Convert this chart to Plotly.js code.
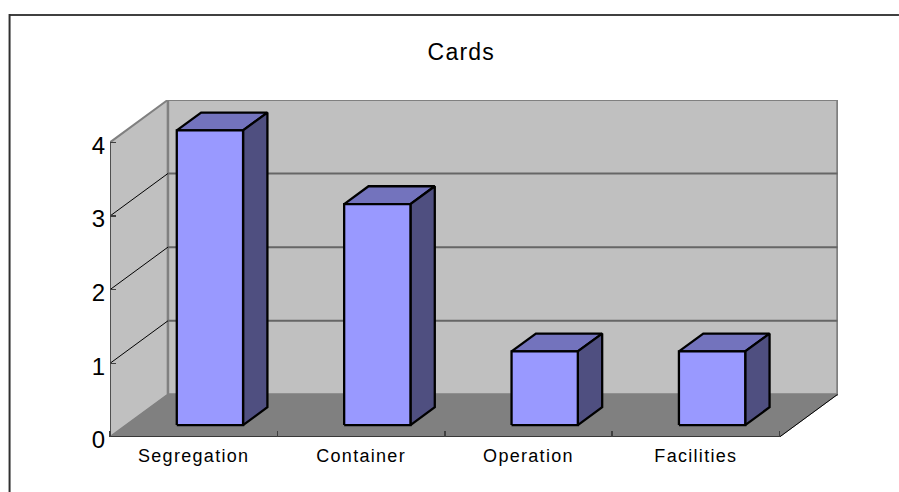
<!DOCTYPE html>
<html>
<head>
<meta charset="utf-8">
<script src="https://cdn.plot.ly/plotly-3.0.1.min.js"></script>
<style>
html,body{margin:0;padding:0;background:#fff;overflow:hidden}
#chart{width:899px;height:492px}
.xtick text{letter-spacing:1.3px}
.gtitle{letter-spacing:1.2px}
</style>
</head>
<body>
<div id="chart"></div>
<script>
const categories = ["Segregation", "Container", "Operation", "Facilities"];
const cardCounts = [4, 3, 1, 1];
const yTickValues = [0, 1, 2, 3, 4];
const chartTitle = "Cards";

// Oblique projection of the 3-D box, expressed in axis units
const catPx = 167.5, unitPx = 73.6;
const depthX = 58 / catPx, depthY = 42.5 / unitPx;
const barWidth = 0.396, barDepthStart = 0.28, barDepthEnd = 0.70;
const nCat = categories.length, yMax = yTickValues[yTickValues.length - 1];
const proj = (c, v, d) => [c + d * depthX, v + d * depthY];

function poly(points, fill, lineColor, lineWidth) {
  const p = points.map(q => proj(q[0], q[1], q[2]));
  if (fill) p.push(p[0]);
  return {
    x: p.map(q => q[0]), y: p.map(q => q[1]), type: 'scatter', mode: 'lines',
    fill: fill ? 'toself' : 'none', fillcolor: fill || undefined,
    line: {color: lineColor, width: lineWidth, simplify: false},
    cliponaxis: false, hoverinfo: 'skip', showlegend: false
  };
}

const traces = [];
// left wall, back wall, floor
traces.push(poly([[0,0,0],[0,yMax,0],[0,yMax,1],[0,0,1]], '#C0C0C0', '#808080', 2));
traces.push(poly([[0,0,1],[0,yMax,1],[nCat,yMax,1],[nCat,0,1]], '#C0C0C0', '#808080', 2.5));
traces.push(poly([[0,0,0],[0,0,1],[nCat,0,1],[nCat,0,0]], '#808080', '#808080', 1));
// gridlines
yTickValues.filter(v => v > 0 && v < yMax).forEach(v => {
  traces.push(poly([[0,v,1],[nCat,v,1]], null, '#666666', 2));
});
yTickValues.filter(v => v > 0 && v < yMax).forEach(v => {
  traces.push(poly([[0,v,0],[0,v,1]], null, '#000000', 1));
});
// bars
cardCounts.forEach((v, i) => {
  const a = i + 0.5 - barWidth / 2, b = i + 0.5 + barWidth / 2;
  const d0 = barDepthStart, d1 = barDepthEnd;
  traces.push(poly([[a,v,d0],[a,v,d1],[b,v,d1],[b,v,d0]], '#7373BD', '#000000', 2.3));
  traces.push(poly([[b,0,d0],[b,v,d0],[b,v,d1],[b,0,d1]], '#4F4F80', '#000000', 2.3));
  traces.push(poly([[a,0,d0],[a,v,d0],[b,v,d0],[b,0,d0]], '#9999FF', '#000000', 2.3));
});
// axis lines
traces.push(poly([[0,0,0],[0,yMax,0]], null, '#404040', 1.5));
traces.push(poly([[0,0,0],[nCat,0,0]], null, '#202020', 1.5));
traces.push(poly([[nCat,0,0],[nCat,0,1]], null, '#000000', 1));

const M = {l: 109.5, r: 61, t: 100, b: 55.3};
const plotW = 899 - M.l - M.r, plotH = 492 - M.t - M.b;

const layout = {
  width: 899, height: 492,
  margin: {l: M.l, r: M.r, t: M.t, b: M.b, pad: 0, autoexpand: false},
  paper_bgcolor: '#FFFFFF', plot_bgcolor: 'rgba(0,0,0,0)',
  font: {family: 'Liberation Sans, sans-serif', color: '#000000'},
  title: {
    text: chartTitle, font: {size: 23, color: '#000000'},
    xref: 'paper', x: (461 - M.l) / plotW, xanchor: 'center',
    yref: 'container', y: 1 - 52 / 492, yanchor: 'middle', pad: {t: 0, b: 0}
  },
  showlegend: false,
  hovermode: false,
  xaxis: {
    range: [0, plotW / catPx], fixedrange: true, showgrid: false, zeroline: false, showline: false,
    tickmode: 'array', tickvals: categories.map((c, i) => i + 0.5), ticktext: categories,
    ticks: '', tickangle: 0, tickfont: {size: 18, color: '#000000'},
    ticklabelstandoff: 6,
    minor: {tickmode: 'array', tickvals: [0, 1, 2, 3, 4], ticks: 'inside', ticklen: 6, tickwidth: 1.5, tickcolor: '#404040', showgrid: false},
    layer: 'above traces'
  },
  yaxis: {
    range: [0, plotH / unitPx], fixedrange: true, showgrid: false, zeroline: false, showline: false,
    tickmode: 'array', tickvals: yTickValues, ticktext: yTickValues.map(String),
    ticks: 'inside', ticklen: 6, tickwidth: 1.5, tickcolor: '#404040',
    tickfont: {size: 24, color: '#000000'}, ticklabelstandoff: 4, ticklabelshift: 3,
    layer: 'above traces'
  },
  shapes: [
    {type: 'line', xref: 'paper', yref: 'paper', layer: 'above',
     x0: (8.5 - M.l) / plotW, x1: (899 - M.l) / plotW, y0: 1 + (M.t - 15) / plotH, y1: 1 + (M.t - 15) / plotH,
     line: {color: '#404040', width: 2}},
    {type: 'line', xref: 'paper', yref: 'paper', layer: 'above',
     x0: (9 - M.l) / plotW, x1: (9 - M.l) / plotW, y0: 1 + (M.t - 14) / plotH, y1: 1 - (492 - M.t) / plotH,
     line: {color: '#303030', width: 2}}
  ]
};

Plotly.newPlot('chart', traces, layout, {displayModeBar: false, staticPlot: true});
</script>
</body>
</html>
